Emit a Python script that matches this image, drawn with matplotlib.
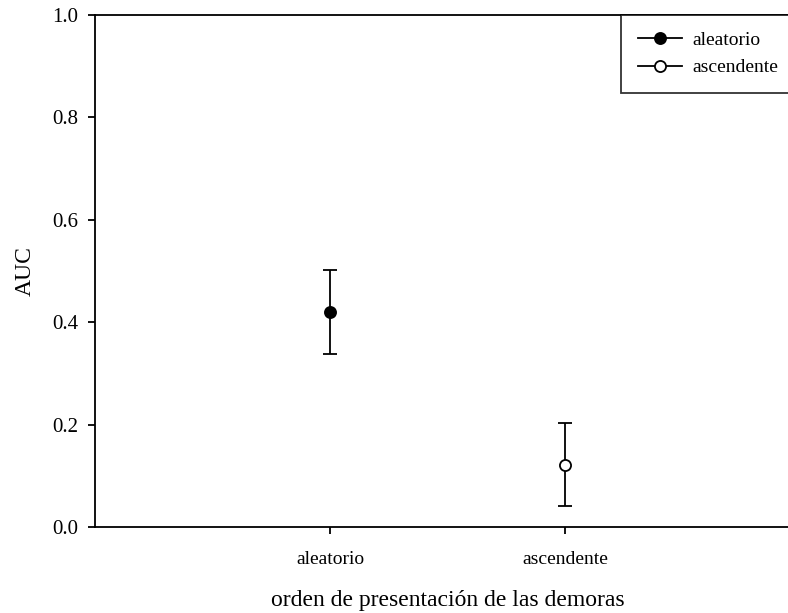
import matplotlib.pyplot as plt
from matplotlib.lines import Line2D

plt.rcParams['font.family'] = ['Liberation Serif', 'DejaVu Serif']

categories = ['aleatorio', 'ascendente']
positions = [1, 2]
auc_mean = [0.42, 0.122]
auc_err = [0.082, 0.081]
face_colors = ['black', 'white']

fig = plt.figure(figsize=(7.88, 6.13), dpi=100)
# axes runs past the right edge of the figure, as in the reference crop
ax = fig.add_axes([95 / 788, (613 - 527) / 613, 705 / 788, 512 / 613])

for x, m, e, fc in zip(positions, auc_mean, auc_err, face_colors):
    ax.errorbar([x], [m], yerr=[e], fmt='none', ecolor='black', elinewidth=1.3,
                capsize=5, capthick=1.3, zorder=2)
    ax.plot([x], [m], marker='o', markersize=8, markerfacecolor=fc,
            markeredgecolor='black', markeredgewidth=1.3, linestyle='none',
            zorder=3)

ax.set_xlim(0, 3)
ax.set_ylim(0, 1.0)
ax.set_xticks(positions)
ax.set_xticklabels(categories, fontsize=14)
ax.set_yticks([0.0, 0.2, 0.4, 0.6, 0.8, 1.0])
ax.set_yticklabels(['0.0', '0.2', '0.4', '0.6', '0.8', '1.0'], fontsize=15)
ax.tick_params(direction='out', length=5, width=1.3)
ax.tick_params(axis='y', pad=7)
ax.tick_params(axis='x', pad=12)
for s in ax.spines.values():
    s.set_linewidth(1.3)

ax.set_ylabel('AUC', fontsize=17, labelpad=12)
ax.set_xlabel('orden de presentación de las demoras', fontsize=17, labelpad=16)

leg_handles = [Line2D([0], [0], color='black', linewidth=1.3, marker='o',
                      markersize=8, markerfacecolor=fc, markeredgecolor='black',
                      markeredgewidth=1.3) for fc in face_colors]
leg = fig.legend(leg_handles, categories, loc='upper left', mode='expand',
                 bbox_to_anchor=(621 / 788, 1 - 92 / 613, (800 - 621) / 788, 77 / 613),
                 fontsize=14, frameon=True, fancybox=False, edgecolor='black',
                 handlelength=2.3, handletextpad=0.5, borderpad=0.85,
                 labelspacing=0.5, borderaxespad=0)
leg.get_frame().set_linewidth(1.3)

fig.savefig('out.png', dpi=100)
